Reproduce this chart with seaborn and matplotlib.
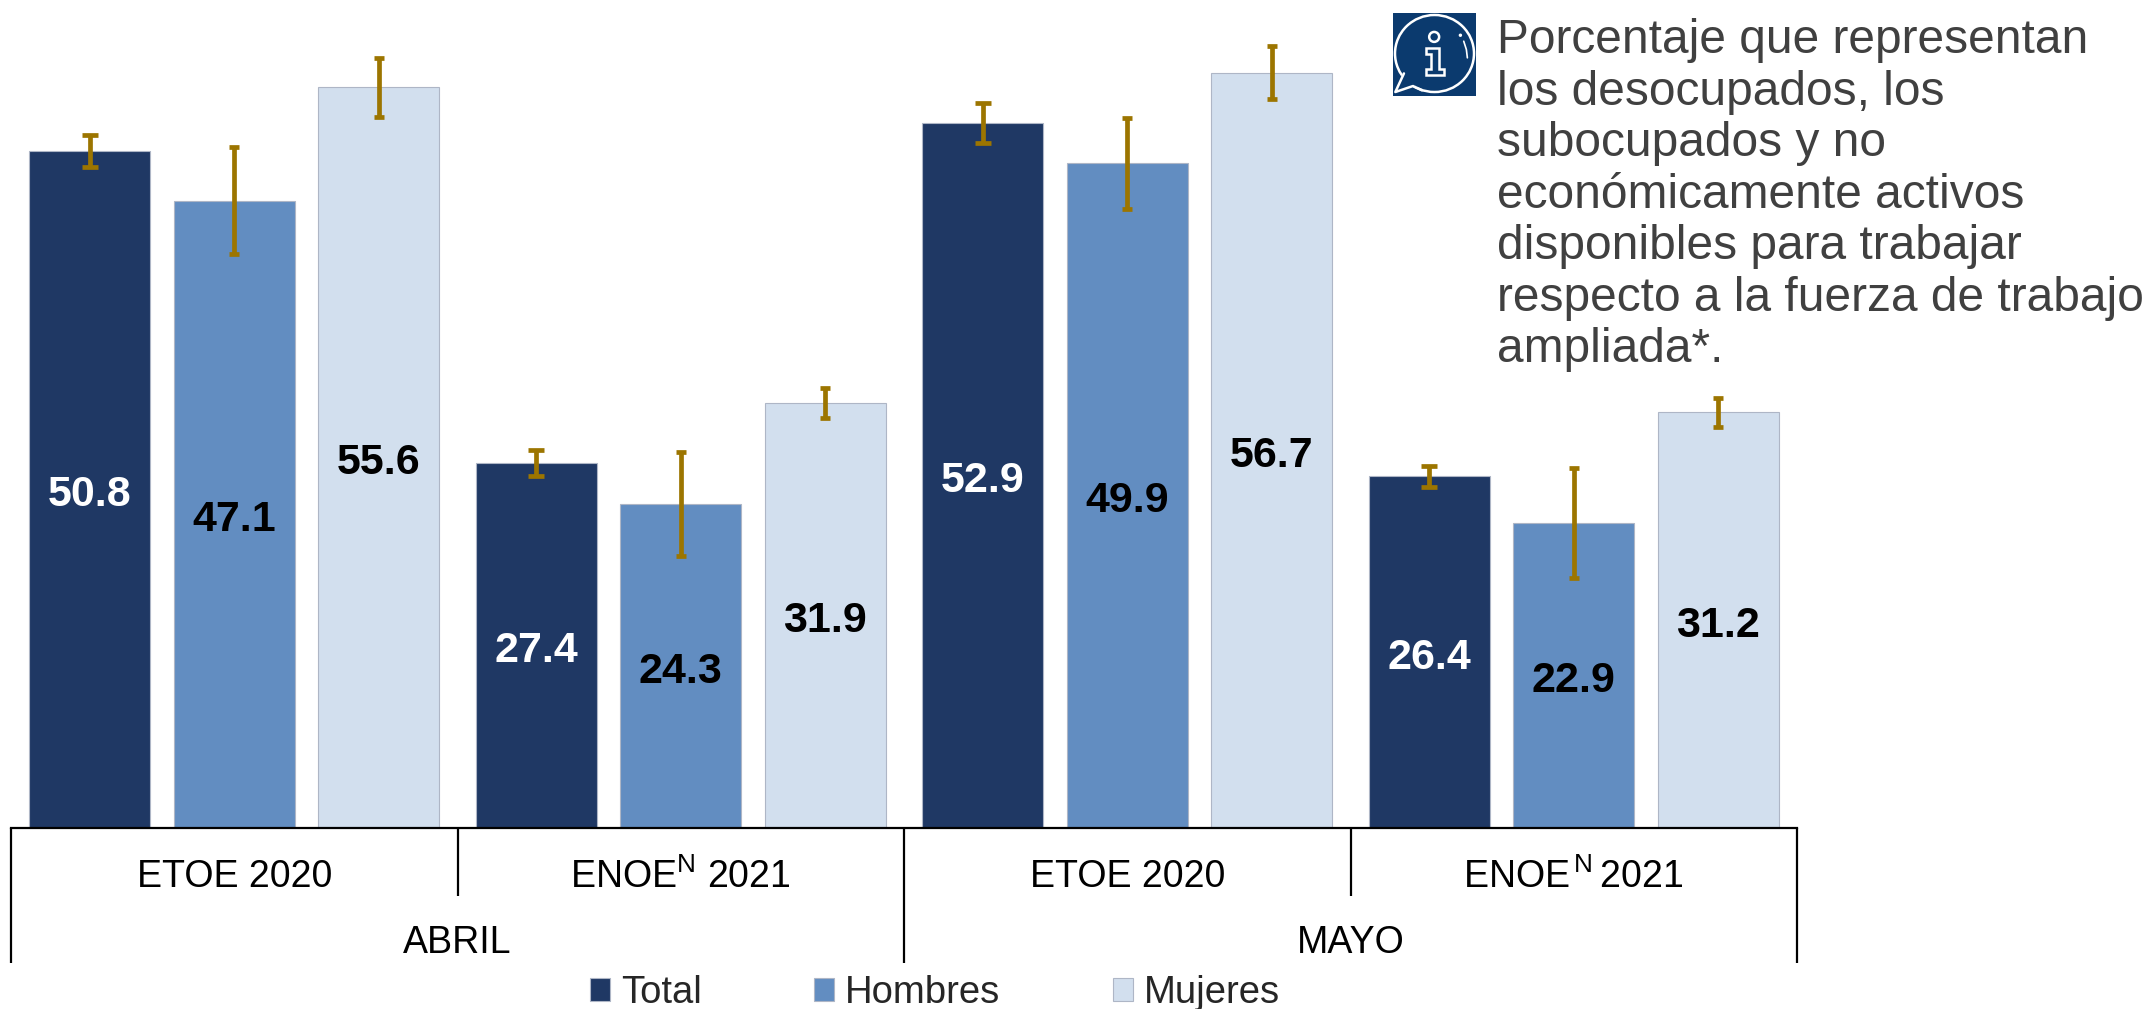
import matplotlib
matplotlib.use('Agg')
import matplotlib.pyplot as plt
from matplotlib.patches import Ellipse, Polygon, Circle, Rectangle
import pandas as pd
import seaborn as sns

# Datos
grupos = ['ABRIL ETOE', 'ABRIL ENOE', 'MAYO ETOE', 'MAYO ENOE']
etiquetas_grupo = ['ETOE 2020', 'ENOE$^{\\mathrm{N}}$ 2021', 'ETOE 2020', 'ENOE$^{\\,\\mathrm{N}}\\,$2021']
meses = ['ABRIL', 'MAYO']
total = [50.8, 27.4, 52.9, 26.4]
hombres = [47.1, 24.3, 49.9, 22.9]
mujeres = [55.6, 31.9, 56.7, 31.2]
err_total = [1.2, 1.0, 1.5, 0.8]
err_hombres = [4.0, 3.9, 3.4, 4.1]
err_mujeres = [2.2, 1.1, 2.0, 1.1]

nota = ('Porcentaje que representan\nlos desocupados, los\nsubocupados y no\n'
        'económicamente activos\ndisponibles para trabajar\n'
        'respecto a la fuerza de trabajo\nampliada*.')

colores = {'Total': '#1F3864', 'Hombres': '#628DC1', 'Mujeres': '#D2DFEE'}
color_err = '#9C7500'
W, H = 2151, 1009

sns.set_theme(style='white')
plt.rcParams['font.family'] = ['Liberation Sans', 'DejaVu Sans']
plt.rcParams['mathtext.fontset'] = 'custom'
plt.rcParams['mathtext.rm'] = 'Liberation Sans'

df = pd.DataFrame({'grupo': grupos * 3,
                   'sexo': ['Total'] * 4 + ['Hombres'] * 4 + ['Mujeres'] * 4,
                   'valor': total + hombres + mujeres})

fig = plt.figure(figsize=(W / 100, H / 100), dpi=100)
ax = fig.add_axes([11 / W, 1 - 828 / H, (1797 - 11) / W, 826 / H])

sns.barplot(data=df, x='grupo', y='valor', hue='sexo', order=grupos, palette=colores, saturation=1,
            width=0.971, gap=0.164, edgecolor='#AEB6C6', linewidth=0.8, errorbar=None, ax=ax)
ax.set_xlim(-0.5, 3.5)
ax.set_ylim(0, 62)

# Barras de error y etiquetas de valor
errores = [err_total, err_hombres, err_mujeres]
caps = [5.8, 3.8, 3.8]
col_texto = ['white', 'black', 'black']
for cont, err, cap, col in zip(ax.containers, errores, caps, col_texto):
    xs = [p.get_x() + p.get_width() / 2 for p in cont]
    ys = [p.get_height() for p in cont]
    ax.errorbar(xs, ys, yerr=err, fmt='none', ecolor=color_err, elinewidth=3.4,
                capsize=cap, capthick=3.4, zorder=5)
    ax.bar_label(cont, fmt='%.1f', label_type='center', color=col, fontsize=31, fontweight='bold',
                 padding=-4)

# Eje de categorias en dos niveles
sns.despine(ax=ax, left=True, top=True, right=True)
ax.spines['bottom'].set_color('black')
ax.spines['bottom'].set_linewidth(1.6)
ax.set_xticks([])
ax.set_yticks([])
ax.set_xlabel('')
ax.set_ylabel('')
ax.vlines([-0.5, 1.5, 3.5], 0, -10.1, color='black', lw=1.6, clip_on=False)
ax.vlines([0.5, 2.5], 0, -5.08, color='black', lw=1.6, clip_on=False)
for i, lab in enumerate(etiquetas_grupo):
    ax.text(i, -3.7, lab, ha='center', va='center', fontsize=27, color='black')
for i, mes in enumerate(meses):
    ax.text(2 * i + 0.5, -8.6, mes, ha='center', va='center', fontsize=27, color='black')

sns.move_legend(ax, loc='center', bbox_to_anchor=(935 / W, 1 - 993 / H),
                bbox_transform=fig.transFigure, ncol=3, frameon=False, title=None,
                fontsize=27.5, handlelength=0.52, handleheight=0.52, handletextpad=0.28,
                columnspacing=2.95, borderpad=0, borderaxespad=0)

# Nota
fig.text(1497 / W, 1 - 18 / H, nota, ha='left', va='top', fontsize=34.5,
         color='#404040', linespacing=1.187)

# Icono de informacion
icono = fig.add_axes([1393 / W, 1 - 96 / H, 83 / W, 83 / H])
icono.set_xlim(25, 275)
icono.set_ylim(275, 25)
icono.axis('off')
azul = '#0B3A6E'
estilo = dict(fill=False, edgecolor='white', lw=1.8)
icono.add_patch(Rectangle((25, 25), 250, 250, color=azul))
icono.add_patch(Ellipse((150, 147), 238, 232, **estilo))
icono.add_patch(Polygon([(55, 205), (32, 263), (85, 245), (110, 258), (70, 225)],
                        closed=True, facecolor=azul, edgecolor='none'))
icono.plot([58, 32, 85, 112], [207, 263, 245, 258], color='white', lw=1.8)
icono.add_patch(Circle((149, 97), 15, **estilo))
icono.add_patch(Polygon([(125, 130), (165, 130), (165, 195), (178, 195), (178, 213), (125, 213),
                         (125, 195), (140, 195), (140, 148), (125, 148)], closed=True, **estilo))
icono.add_patch(Circle((228, 92), 3, color='white'))
icono.plot([238, 246, 249], [110, 135, 160], color='white', lw=1.2)

fig.savefig('out.png', dpi=100)
